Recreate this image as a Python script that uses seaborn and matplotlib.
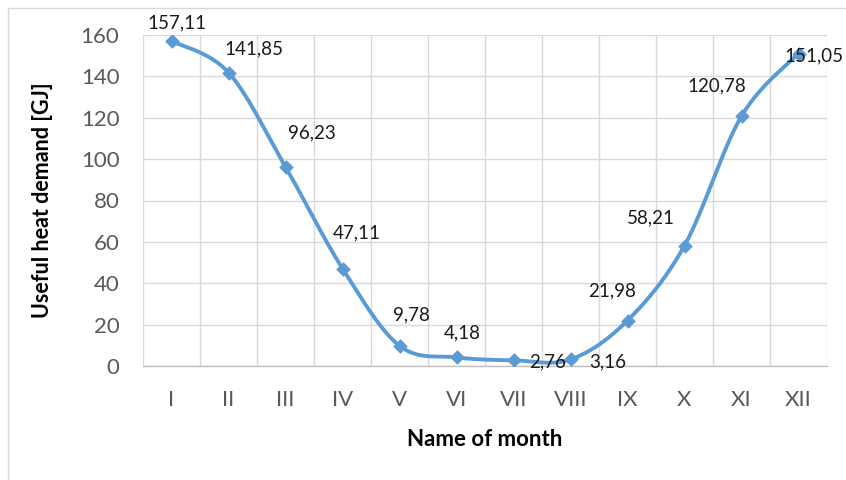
import numpy as np
import pandas as pd
import matplotlib
matplotlib.use("Agg")
import matplotlib.pyplot as plt
from matplotlib.patches import Rectangle
import seaborn as sns

months = ["I", "II", "III", "IV", "V", "VI", "VII", "VIII", "IX", "X", "XI", "XII"]
heat_demand = [157.11, 141.85, 96.23, 47.11, 9.78, 4.18, 2.76, 3.16, 21.98, 58.21, 120.78, 151.05]
y_ticks = [0, 20, 40, 60, 80, 100, 120, 140, 160]

# label offsets from each marker, in pixels (dx, dy)
label_offsets = [(5, 18), (25, 24), (26, 34), (14, 36), (12, 31), (6, 24),
                 (34, -2), (37, -2), (-15, 30), (-34, 28), (-25, 30), (16, -2)]

sns.set_theme(style="white")
plt.rcParams["font.family"] = ["Lato", "DejaVu Sans"]

LINE = "#5B9BD5"
GRID = "#D9D9D9"

df = pd.DataFrame({"month": months, "x": np.arange(len(months)), "demand": heat_demand})


def smooth_curve(x, y, n=40):
    """Cardinal (Catmull-Rom) Bezier smoothing through every point."""
    x = np.asarray(x, float)
    y = np.asarray(y, float)
    px = np.concatenate([[x[0]], x, [x[-1]]])
    py = np.concatenate([[y[0]], y, [y[-1]]])
    xs, ys = [], []
    t = np.linspace(0, 1, n)
    for i in range(1, len(px) - 2):
        p0 = np.array([px[i], py[i]])
        p3 = np.array([px[i + 1], py[i + 1]])
        p1 = p0 + (np.array([px[i + 1], py[i + 1]]) - np.array([px[i - 1], py[i - 1]])) / 6
        p2 = p3 - (np.array([px[i + 2], py[i + 2]]) - np.array([px[i], py[i]])) / 6
        b = ((1 - t) ** 3)[:, None] * p0 + (3 * (1 - t) ** 2 * t)[:, None] * p1 \
            + (3 * (1 - t) * t ** 2)[:, None] * p2 + (t ** 3)[:, None] * p3
        xs.append(b[:, 0])
        ys.append(b[:, 1])
    return np.concatenate(xs), np.concatenate(ys)


fig = plt.figure(figsize=(8.46, 4.8), dpi=100)
fig.patch.set_facecolor("white")
ax = fig.add_axes([143 / 846, 1 - 366 / 480, (827 - 143) / 846, (366 - 35) / 480])

sx, sy = smooth_curve(df["x"], df["demand"])
curve = pd.DataFrame({"x": sx, "y": sy})
sns.lineplot(data=curve, x="x", y="y", ax=ax, color=LINE, lw=2.8, sort=False,
             estimator=None, zorder=3)
sns.scatterplot(data=df, x="x", y="demand", ax=ax, marker="D", s=48, color=LINE,
                edgecolor=LINE, linewidth=0.5, zorder=4)

for (xi, yi, (dx, dy)) in zip(df["x"], df["demand"], label_offsets):
    ax.annotate(f"{yi:.2f}".replace(".", ","), (xi, yi), xytext=(dx, dy),
                textcoords="offset pixels", ha="center", va="center",
                fontsize=13.5, color="#1a1a1a", zorder=5, annotation_clip=False)

ax.set_xlim(-0.5, len(months) - 0.5)
ax.set_ylim(0, 160)
ax.set_yticks(y_ticks)
ax.set_xticks(df["x"])
ax.set_xticklabels(months)
ax.set_xticks(np.arange(-0.5, len(months), 1), minor=True)

ax.grid(False)
ax.grid(True, which="minor", axis="x", color=GRID, lw=1)
ax.grid(True, which="major", axis="y", color=GRID, lw=1)
ax.set_axisbelow(True)
for side in ["top", "right", "left"]:
    ax.spines[side].set_visible(False)
ax.spines["bottom"].set_color("#BFBFBF")
ax.spines["bottom"].set_linewidth(1)

ax.tick_params(axis="y", which="both", length=0, pad=17, labelsize=16, labelcolor="#595959")
ax.tick_params(axis="x", which="both", length=0, pad=17, labelsize=16, labelcolor="#595959")

ax.set_xlabel("Name of month", fontsize=16, fontweight="bold", color="black", labelpad=14)
ax.set_ylabel("Useful heat demand [GJ]", fontsize=15.5, fontweight="bold", color="black", labelpad=20)

# thin chart-area frame
fig.patches.append(Rectangle((8 / 846, -0.1), 1.2, 1 - 8 / 480 + 0.1, transform=fig.transFigure,
                             fill=False, edgecolor=GRID, lw=1, zorder=0))

fig.savefig("out.png", dpi=100, facecolor="white")
